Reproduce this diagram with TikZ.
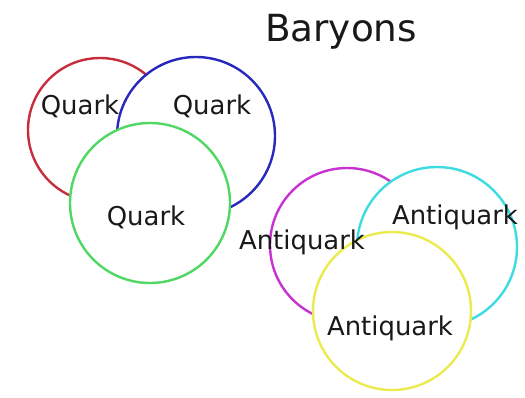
\documentclass[tikz,border=0pt]{standalone}
\usepackage{fontspec}
\setmainfont{DejaVu Sans}
\definecolor{cred}{RGB}{200,45,60}
\definecolor{cblue}{RGB}{40,40,190}
\definecolor{cgreen}{RGB}{80,215,100}
\definecolor{cmag}{RGB}{200,50,210}
\definecolor{ccyan}{RGB}{60,220,225}
\definecolor{cyel}{RGB}{235,235,80}
\tikzset{
  ball/.style={circle, draw=#1, fill=white, line width=2.4bp, inner sep=0pt, minimum size=158bp},
  lbl/.style={inner sep=0pt, font=\fontsize{26}{30}\selectfont, text=black!90},
}
\begin{document}
\begin{tikzpicture}[x=1bp,y=-1bp]
\useasboundingbox (0,0) rectangle (525,397);
% quarks
\node[ball=cred, minimum size=144bp] (qr) at (100,130) {};
\node[ball=cblue] (qb) at (196,136) {};
\node[ball=cgreen, minimum size=160bp] (qg) at (150,203) {};
% antiquarks
\node[ball=cmag, minimum size=154bp] (am) at (347,245) {};
\node[ball=ccyan, minimum size=160bp] (ac) at (437,247) {};
\node[ball=cyel] (ay) at (392,311) {};
% labels
\node[font=\fontsize{37.5}{42}\selectfont, text=black!90, inner sep=0pt] (title) at (341,32) {Baryons};
\node[lbl] (tqr) at (80,106) {Quark};
\node[lbl] (tqb) at (212,106) {Quark};
\node[lbl] (tqg) at (146,217) {Quark};
\node[lbl] (tam) at (302,242) {Antiquark};
\node[lbl] (tac) at (455,217) {Antiquark};
\node[lbl] (tay) at (390,328) {Antiquark};
\end{tikzpicture}
\end{document}
